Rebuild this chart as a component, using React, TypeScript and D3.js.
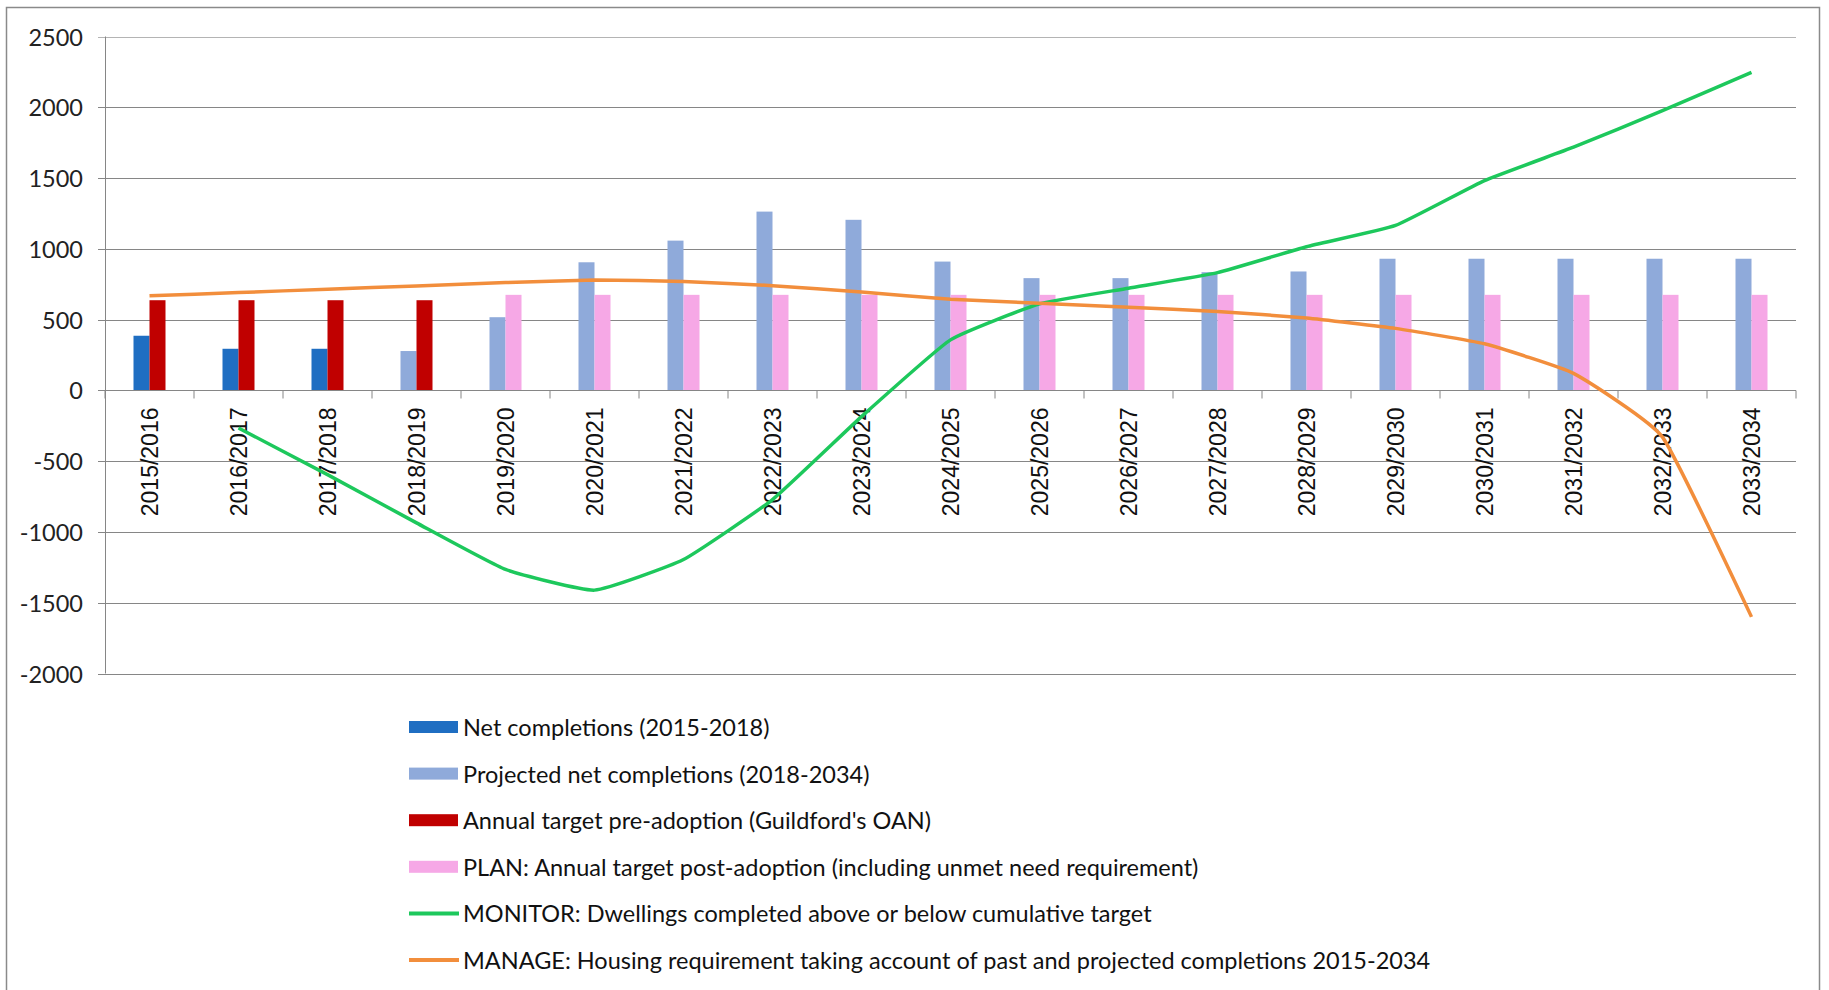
import { useEffect, useRef } from "react";
import * as d3 from "d3";

const categories = [
  "2015/2016", "2016/2017", "2017/2018", "2018/2019", "2019/2020",
  "2020/2021", "2021/2022", "2022/2023", "2023/2024", "2024/2025",
  "2025/2026", "2026/2027", "2027/2028", "2028/2029", "2029/2030",
  "2030/2031", "2031/2032", "2032/2033", "2033/2034",
];

const netCompletions = [386, 294, 294, null, null, null, null, null, null, null, null, null, null, null, null, null, null, null, null];
const projectedCompletions = [null, null, null, 278, 517, 905, 1058, 1263, 1205, 910, 793, 793, 835, 840, 930, 930, 930, 930, 930];
const preAdoptionTarget = [637, 637, 637, 637, null, null, null, null, null, null, null, null, null, null, null, null, null, null, null];
const planTarget = [null, null, null, null, 675, 675, 675, 675, 675, 675, 675, 675, 675, 675, 675, 675, 675, 675, 675];
const monitor = [null, -266, -595, -936, -1265, -1411, -1195, -771, -185, 357, 611, 722, 832, 1015, 1165, 1482, 1718, 1976, 2247];
const manage = [668, 691, 715, 738, 762, 779, 770, 740, 695, 644, 616, 588, 557, 512, 438, 329, 120, -330, -1600];

const yTicks = [2500, 2000, 1500, 1000, 500, 0, -500, -1000, -1500, -2000];

const legendItems = [
  { label: "Net completions (2015-2018)", color: "#1F6EC2", kind: "bar" },
  { label: "Projected net completions (2018-2034)", color: "#8FAADA", kind: "bar" },
  { label: "Annual target pre-adoption (Guildford's OAN)", color: "#C00000", kind: "bar" },
  { label: "PLAN: Annual target post-adoption (including unmet need requirement)", color: "#F6A8E6", kind: "bar" },
  { label: "MONITOR: Dwellings completed above or below cumulative target", color: "#1DC85C", kind: "line" },
  { label: "MANAGE: Housing requirement taking account of past and projected completions 2015-2034", color: "#F28E3C", kind: "line" },
];

const W = 1829;
const H = 990;

export default function App() {
  const svgRef = useRef<SVGSVGElement | null>(null);

  useEffect(() => {
    if (!svgRef.current) return;
    const svg = d3.select(svgRef.current);
    svg.selectAll("*").remove();

    const plotLeft = 105;
    const plotRight = 1796;
    const plotTop = 36.5;
    const plotBottom = 673.5;
    const barWidth = 16;

    // outer frame
    svg.append("rect").attr("width", W).attr("height", H).attr("fill", "#fff");
    svg
      .append("rect")
      .attr("x", 6.5)
      .attr("y", 7.5)
      .attr("width", 1813)
      .attr("height", 1000)
      .attr("fill", "none")
      .attr("stroke", "#8a8a8a")
      .attr("stroke-width", 1.5);

    const x = d3.scaleBand<string>().domain(categories).range([plotLeft, plotRight]);
    const pad = (x.bandwidth() / barWidth - 2) / 2;
    const slot = d3.scaleBand<string>().domain(["a", "b"]).range([0, x.bandwidth()]).paddingOuter(pad);
    const y = d3.scaleLinear().domain([-2000, 2500]).range([plotBottom, plotTop]);

    // gridlines + y labels
    const grid = svg.append("g");
    yTicks.forEach((t) => {
      grid
        .append("line")
        .attr("x1", plotLeft - 7)
        .attr("x2", plotRight)
        .attr("y1", Math.round(y(t)) + 0.5)
        .attr("y2", Math.round(y(t)) + 0.5)
        .attr("stroke", t === 2500 ? "#b4b4b4" : "#868686")
        .attr("stroke-width", 1);
      grid
        .append("text")
        .attr("x", 83)
        .attr("y", y(t))
        .attr("text-anchor", "end")
        .attr("dominant-baseline", "central")
        .attr("font-family", "Lato, 'Open Sans', sans-serif")
        .attr("font-size", 23.5)
        .attr("fill", "#222")
        .text(String(t));
    });
    grid
      .append("line")
      .attr("x1", plotLeft + 0.5)
      .attr("x2", plotLeft + 0.5)
      .attr("y1", plotTop)
      .attr("y2", plotBottom)
      .attr("stroke", "#868686");

    // bars
    const bars = svg.append("g");
    const drawBars = (vals: (number | null)[], key: string, color: string) => {
      categories.forEach((c, i) => {
        const v = vals[i];
        if (v === null) return;
        bars
          .append("rect")
          .attr("x", (x(c) ?? 0) + (slot(key) ?? 0))
          .attr("width", slot.bandwidth())
          .attr("y", Math.min(y(v), y(0)))
          .attr("height", Math.abs(y(v) - y(0)))
          .attr("fill", color);
      });
    };
    drawBars(netCompletions, "a", legendItems[0].color);
    drawBars(projectedCompletions, "a", legendItems[1].color);
    drawBars(preAdoptionTarget, "b", legendItems[2].color);
    drawBars(planTarget, "b", legendItems[3].color);

    // x axis (at zero)
    const y0 = Math.round(y(0)) + 0.5;
    const axis = svg.append("g");
    axis
      .append("line")
      .attr("x1", plotLeft)
      .attr("x2", plotRight)
      .attr("y1", y0)
      .attr("y2", y0)
      .attr("stroke", "#868686");
    categories.forEach((c, i) => {
      const bx = (x(c) ?? 0) + x.bandwidth();
      axis
        .append("line")
        .attr("x1", bx)
        .attr("x2", bx)
        .attr("y1", y0)
        .attr("y2", y0 + 8)
        .attr("stroke", "#868686");
      const cx = (x(c) ?? 0) + x.bandwidth() / 2;
      axis
        .append("text")
        .attr("transform", `translate(${cx},${y0 + 17}) rotate(-90)`)
        .attr("text-anchor", "end")
        .attr("dominant-baseline", "central")
        .attr("font-family", "'Liberation Sans', Arial, sans-serif")
        .attr("font-size", 23)
        .attr("fill", "#111")
        .text(c);
      if (i === 0) {
        axis
          .append("line")
          .attr("x1", x(c) ?? 0)
          .attr("x2", x(c) ?? 0)
          .attr("y1", y0)
          .attr("y2", y0 + 8)
          .attr("stroke", "#868686");
      }
    });

    // lines
    const pts = (vals: (number | null)[]) =>
      categories
        .map((c, i) => ({ c, v: vals[i] }))
        .filter((d) => d.v !== null) as { c: string; v: number }[];
    const line = d3
      .line<{ c: string; v: number }>()
      .x((d) => (x(d.c) ?? 0) + x.bandwidth() / 2)
      .y((d) => y(d.v))
      .curve(d3.curveCardinal.tension(0.6));

    svg
      .append("path")
      .attr("d", line(pts(monitor)) ?? "")
      .attr("fill", "none")
      .attr("stroke", legendItems[4].color)
      .attr("stroke-width", 3.5);
    svg
      .append("path")
      .attr("d", line(pts(manage)) ?? "")
      .attr("fill", "none")
      .attr("stroke", legendItems[5].color)
      .attr("stroke-width", 3.5);

    // legend
    const legend = svg.append("g").attr("transform", "translate(409,727)");
    legendItems.forEach((item, i) => {
      const g = legend.append("g").attr("transform", `translate(0,${i * 46.6})`);
      if (item.kind === "bar") {
        g.append("rect").attr("x", 0).attr("y", -6).attr("width", 49).attr("height", 12).attr("fill", item.color);
      } else {
        g.append("line")
          .attr("x1", 0)
          .attr("x2", 50)
          .attr("y1", 0)
          .attr("y2", 0)
          .attr("stroke", item.color)
          .attr("stroke-width", 4);
      }
      g.append("text")
        .attr("x", 54)
        .attr("y", 0)
        .attr("dominant-baseline", "central")
        .attr("font-family", "Lato, 'Open Sans', sans-serif")
        .attr("font-size", 23.5)
        .attr("fill", "#111")
        .text(item.label);
    });
  }, []);

  return (
    <svg
      ref={svgRef}
      width={W}
      height={H}
      style={{ position: "absolute", left: 0, top: 0, background: "#fff" }}
    />
  );
}
